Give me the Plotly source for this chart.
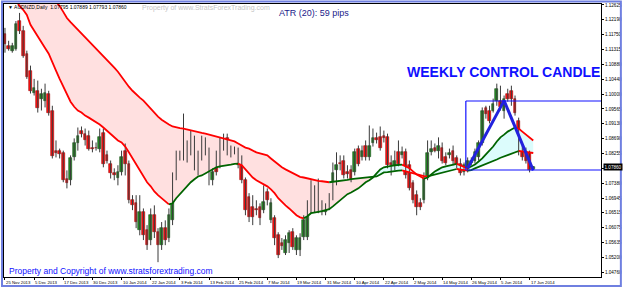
import plotly.graph_objects as go

# ---------------- data ----------------
date_labels = ["25 Nov 2013", "5 Dec 2013", "17 Dec 2013", "30 Dec 2013", "10 Jan 2014",
               "22 Jan 2014", "3 Feb 2014", "13 Feb 2014", "25 Feb 2014", "7 Mar 2014",
               "19 Mar 2014", "31 Mar 2014", "10 Apr 2014", "22 Apr 2014", "2 May 2014",
               "14 May 2014", "26 May 2014", "5 Jun 2014", "17 Jun 2014"]
date_label_bars = [0, 8, 16, 24, 32, 40, 48, 56, 64, 72, 80, 88, 96, 104, 112, 120, 128, 136, 144]

price_tick_vals = [1.12625, 1.12190, 1.11750, 1.11315, 1.10880, 1.10440, 1.10000, 1.09565,
                   1.09130, 1.08690, 1.08255, 1.07820, 1.07380, 1.06945, 1.06515, 1.06075,
                   1.05635, 1.05200, 1.04760]
price_tick_text = ["1.12625", "1.12190", "1.11750", "1.11315", "1.10880", "1.10440", "1.10000",
                   "1.09565", "1.09130", "1.08690", "1.08255", "1.07820", "1.07380", "1.06945",
                   "1.06515", "1.06075", "1.05635", "1.05200", "1.04760"]

opens = [1.1177, 1.1142, 1.1128, 1.1133, 1.1215, 1.1186, 1.1119, 1.1069, 1.1004, 1.1010,
         1.0987, 1.0981, 1.1002, 1.0952, 1.0834, 1.0832, 1.0826, 1.0752, 1.0747, 1.0814,
         1.0855, 1.0893, 1.0884, 1.0878, 1.0843, 1.0843, 1.0840, 1.0887, 1.0820, 1.0796,
         1.0767, 1.0755, 1.0770, 1.0834, 1.0796, 1.0688, 1.0679, 1.0600, 1.0653, 1.0600,
         1.0571, 1.0644, 1.0594, 1.0556, 1.0606, 1.0577, 1.0629, 1.0755, 1.0817, 1.0820,
         1.0811, 1.0849, 1.0858, 1.0805, 1.0811, 1.0829, 1.0834, 1.0747, 1.0826, 1.0791,
         1.0864, 1.0870, 1.0834, 1.0834, 1.0834, 1.0811, 1.0747, 1.0697, 1.0667, 1.0662,
         1.0667, 1.0659, 1.0711, 1.0629, 1.0635, 1.0585, 1.0562, 1.0533, 1.0562, 1.0594,
         1.0542, 1.0542, 1.0580, 1.0580, 1.0659, 1.0659, 1.0732, 1.0667, 1.0653, 1.0664,
         1.0694, 1.0776, 1.0799, 1.0805, 1.0770, 1.0776, 1.0770, 1.0840, 1.0814, 1.0849,
         1.0814, 1.0855, 1.0870, 1.0873, 1.0878, 1.0873, 1.0799, 1.0785, 1.0829, 1.0820,
         1.0829, 1.0791, 1.0738, 1.0703, 1.0679, 1.0688, 1.0755, 1.0829, 1.0843, 1.0834,
         1.0843, 1.0814, 1.0820, 1.0834, 1.0811, 1.0796, 1.0770, 1.0776, 1.0799, 1.0805,
         1.0814, 1.0855, 1.0958, 1.0952, 1.0952, 1.0981, 1.0981, 1.0952, 1.1002, 1.1010,
         1.0987, 1.0922, 1.0840, 1.0834, 1.0826, 1.07795]
highs = [1.1195, 1.1157, 1.1151, 1.1215, 1.1239, 1.1201, 1.1128, 1.1084, 1.1045, 1.1040,
         1.1016, 1.1031, 1.1010, 1.0966, 1.0864, 1.0840, 1.0834, 1.0776, 1.0820, 1.0870,
         1.0902, 1.0905, 1.0899, 1.0893, 1.0864, 1.0858, 1.0899, 1.0899, 1.0834, 1.0805,
         1.0782, 1.0791, 1.0834, 1.0855, 1.0805, 1.0703, 1.0703, 1.0703, 1.0664, 1.0615,
         1.0664, 1.0673, 1.0606, 1.0624, 1.0629, 1.0664, 1.0770, 1.0834, 1.0834, 1.0943,
         1.0864, 1.0893, 1.0878, 1.0834, 1.0878, 1.0873, 1.0843, 1.0782, 1.0834, 1.0873,
         1.0884, 1.0884, 1.0849, 1.0846, 1.0843, 1.0820, 1.0755, 1.0709, 1.0703, 1.0688,
         1.0679, 1.0732, 1.0723, 1.0694, 1.0644, 1.0594, 1.0577, 1.0585, 1.0600, 1.0606,
         1.0585, 1.0591, 1.0644, 1.0688, 1.0747, 1.0732, 1.0752, 1.0688, 1.0679, 1.0709,
         1.0799, 1.0829, 1.0820, 1.0820, 1.0791, 1.0791, 1.0840, 1.0849, 1.0849, 1.0864,
         1.0908, 1.0899, 1.0887, 1.0905, 1.0893, 1.0884, 1.0820, 1.0834, 1.0864, 1.0846,
         1.0840, 1.0805, 1.0747, 1.0717, 1.0694, 1.0770, 1.0864, 1.0864, 1.0855, 1.0873,
         1.0858, 1.0829, 1.0840, 1.0849, 1.0820, 1.0811, 1.0799, 1.0814, 1.0814, 1.0840,
         1.0864, 1.0961, 1.0966, 1.0966, 1.0987, 1.1031, 1.1025, 1.0996, 1.1016, 1.1025,
         1.0996, 1.0931, 1.0849, 1.0843, 1.0834, 1.07889]
lows = [1.1122, 1.1128, 1.1122, 1.1128, 1.1177, 1.1107, 1.1045, 1.1002, 1.0996, 1.0946,
        1.0952, 1.0961, 1.0937, 1.0811, 1.0814, 1.0811, 1.0741, 1.0723, 1.0732, 1.0805,
        1.0834, 1.0873, 1.0849, 1.0834, 1.0829, 1.0834, 1.0829, 1.0785, 1.0796, 1.0752,
        1.0747, 1.0732, 1.0761, 1.0761, 1.0679, 1.0659, 1.0606, 1.0585, 1.0571, 1.0542,
        1.0556, 1.0577, 1.0506, 1.0542, 1.0556, 1.0565, 1.0615, 1.0747, 1.0805, 1.0805,
        1.0799, 1.0820, 1.0776, 1.0761, 1.0805, 1.0820, 1.0732, 1.0732, 1.0761, 1.0782,
        1.0834, 1.0820, 1.0814, 1.0823, 1.0782, 1.0738, 1.0644, 1.0624, 1.0615, 1.0644,
        1.0615, 1.0650, 1.0673, 1.0621, 1.0556, 1.0518, 1.0542, 1.0527, 1.0533, 1.0542,
        1.0527, 1.0524, 1.0571, 1.0571, 1.0650, 1.0653, 1.0650, 1.0644, 1.0644, 1.0659,
        1.0688, 1.0732, 1.0776, 1.0752, 1.0752, 1.0741, 1.0761, 1.0788, 1.0805, 1.0805,
        1.0805, 1.0846, 1.0855, 1.0834, 1.0858, 1.0782, 1.0761, 1.0776, 1.0788, 1.0811,
        1.0752, 1.0717, 1.0679, 1.0644, 1.0659, 1.0679, 1.0747, 1.0820, 1.0829, 1.0811,
        1.0796, 1.0791, 1.0811, 1.0791, 1.0782, 1.0761, 1.0761, 1.0770, 1.0791, 1.0796,
        1.0805, 1.0849, 1.0928, 1.0914, 1.0946, 1.0966, 1.0952, 1.0928, 1.0978, 1.0966,
        1.0937, 1.0820, 1.0805, 1.0796, 1.0770, 1.07793]
closes = [1.1148, 1.1133, 1.1142, 1.1207, 1.1186, 1.1113, 1.1051, 1.1010, 1.1019, 1.0958,
          1.1002, 1.1004, 1.0946, 1.0817, 1.0826, 1.0823, 1.0747, 1.0738, 1.0811, 1.0855,
          1.0878, 1.0884, 1.0864, 1.0840, 1.0840, 1.0842, 1.0873, 1.0796, 1.0805, 1.0767,
          1.0761, 1.0770, 1.0814, 1.0796, 1.0688, 1.0673, 1.0624, 1.0653, 1.0585, 1.0556,
          1.0644, 1.0594, 1.0556, 1.0606, 1.0571, 1.0644, 1.0755, 1.0814, 1.0820, 1.0817,
          1.0834, 1.0834, 1.0785, 1.0820, 1.0855, 1.0858, 1.0776, 1.0770, 1.0770, 1.0855,
          1.0843, 1.0829, 1.0826, 1.0832, 1.0791, 1.0747, 1.0659, 1.0638, 1.0638, 1.0659,
          1.0635, 1.0682, 1.0688, 1.0679, 1.0577, 1.0527, 1.0553, 1.0571, 1.0591, 1.0550,
          1.0577, 1.0577, 1.0629, 1.0673, 1.0726, 1.0717, 1.0659, 1.0653, 1.0664, 1.0694,
          1.0767, 1.0791, 1.0796, 1.0761, 1.0764, 1.0752, 1.0829, 1.0796, 1.0834, 1.0814,
          1.0849, 1.0870, 1.0864, 1.0843, 1.0870, 1.0791, 1.0793, 1.0805, 1.0796, 1.0829,
          1.0761, 1.0723, 1.0688, 1.0667, 1.0667, 1.0755, 1.0826, 1.0840, 1.0834, 1.0849,
          1.0805, 1.0799, 1.0826, 1.0805, 1.0791, 1.0767, 1.0791, 1.0805, 1.0805, 1.0829,
          1.0855, 1.0952, 1.0943, 1.0922, 1.0972, 1.1016, 1.0961, 1.0987, 1.0987, 1.0987,
          1.0946, 1.0829, 1.0814, 1.0805, 1.0776, 1.07860]

ma_fast = [1.1333, 1.1315, 1.1297, 1.1280, 1.1259, 1.1248, 1.1233, 1.1204, 1.1186, 1.1169,
           1.1154, 1.1136, 1.1119, 1.1092, 1.1069, 1.1045, 1.1022, 1.1002, 1.0978, 1.0963,
           1.0952, 1.0946, 1.0937, 1.0931, 1.0925, 1.0917, 1.0911, 1.0902, 1.0893, 1.0884,
           1.0873, 1.0864, 1.0858, 1.0846, 1.0829, 1.0811, 1.0791, 1.0773, 1.0758, 1.0741,
           1.0729, 1.0714, 1.0703, 1.0694, 1.0685, 1.0676, 1.0679, 1.0694, 1.0706, 1.0720,
           1.0732, 1.0741, 1.0750, 1.0758, 1.0761, 1.0767, 1.0773, 1.0779, 1.0785, 1.0788,
           1.0789, 1.0791, 1.0793, 1.0795, 1.0796, 1.0791, 1.0779, 1.0767, 1.0755, 1.0747,
           1.0741, 1.0735, 1.0729, 1.0720, 1.0709, 1.0694, 1.0682, 1.0673, 1.0664, 1.0653,
           1.0644, 1.0638, 1.0635, 1.0641, 1.0650, 1.0653, 1.0654, 1.0656, 1.0659, 1.0662,
           1.0670, 1.0679, 1.0688, 1.0697, 1.0706, 1.0711, 1.0717, 1.0723, 1.0732, 1.0741,
           1.0747, 1.0755, 1.0767, 1.0779, 1.0785, 1.0788, 1.0789, 1.0791, 1.0792, 1.0793,
           1.0788, 1.0782, 1.0773, 1.0764, 1.0758, 1.0752, 1.0755, 1.0764, 1.0773, 1.0779,
           1.0785, 1.0788, 1.0791, 1.0793, 1.0795, 1.0791, 1.0785, 1.0782, 1.0788, 1.0793,
           1.0802, 1.0811, 1.0823, 1.0834, 1.0846, 1.0861, 1.0873, 1.0881, 1.0890, 1.0896,
           1.0902, 1.0899, 1.0890, 1.0881, 1.0873, 1.0864]
ma_slow = [1.1421, 1.1409, 1.1400, 1.1388, 1.1379, 1.1368, 1.1356, 1.1347, 1.1336, 1.1327,
           1.1315, 1.1306, 1.1295, 1.1286, 1.1274, 1.1259, 1.1242, 1.1224, 1.1212, 1.1201,
           1.1189, 1.1177, 1.1166, 1.1157, 1.1145, 1.1133, 1.1125, 1.1113, 1.1101, 1.1089,
           1.1078, 1.1066, 1.1051, 1.1037, 1.1022, 1.1010, 1.0999, 1.0990, 1.0981, 1.0969,
           1.0958, 1.0946, 1.0934, 1.0925, 1.0917, 1.0911, 1.0905, 1.0902, 1.0900, 1.0899,
           1.0896, 1.0893, 1.0890, 1.0887, 1.0886, 1.0884, 1.0881, 1.0878, 1.0875, 1.0873,
           1.0870, 1.0867, 1.0864, 1.0861, 1.0855, 1.0849, 1.0843, 1.0840, 1.0834, 1.0829,
           1.0826, 1.0823, 1.0820, 1.0811, 1.0802, 1.0793, 1.0785, 1.0779, 1.0773, 1.0767,
           1.0761, 1.0757, 1.0755, 1.0752, 1.0750, 1.0747, 1.0745, 1.0744, 1.0742, 1.0741,
           1.0742, 1.0744, 1.0745, 1.0747, 1.0748, 1.0750, 1.0751, 1.0752, 1.0753, 1.0754,
           1.0755, 1.0756, 1.0758, 1.0764, 1.0770, 1.0771, 1.0773, 1.0774, 1.0775, 1.0776,
           1.0773, 1.0770, 1.0767, 1.0764, 1.0761, 1.0759, 1.0758, 1.0761, 1.0764, 1.0767,
           1.0770, 1.0773, 1.0776, 1.0779, 1.0780, 1.0779, 1.0776, 1.0775, 1.0777, 1.0782,
           1.0786, 1.0791, 1.0795, 1.0799, 1.0804, 1.0808, 1.0813, 1.0817, 1.0821, 1.0826,
           1.0830, 1.0833, 1.0832, 1.0830, 1.0829, 1.0827]

# weekly control candle box and swing line
box_start_bar = 126.5
box_high = 1.0980
box_low = 1.0777
zz_bars = [127, 137, 145]
zz_prices = [1.0782, 1.0981, 1.0776]

info_text = "\u25BC AUDNZD,Daily  1.07795 1.07889 1.07793 1.07860"
last_price_text = "1.07860"
last_price = 1.07860

# ---------------- layout constants ----------------
W, H = 625, 287
ML, MR, MT, MB = 3, 21, 3, 10
PW, PH = W - ML - MR, H - MT - MB
X_RANGE = [-0.27, 163.6]
Y_RANGE = [1.04624, 1.12652]
FONT = "Liberation Sans, Arial, sans-serif"

RED = "#ff0000"
GREEN = "#006400"
PINK = "#ffe0e0"
CYAN = "#dcfcfc"
BLUE = "#1010ff"


def px(xp):
    return (xp - ML) / PW


def py(yp):
    return (H - MB - yp) / PH


n = len(opens)
bars = list(range(n))
fig = go.Figure()

# ---- fill between the two averages (pink when fast below slow, cyan when above) ----
diff = [f - s for f, s in zip(ma_fast, ma_slow)]
runs = []
cur = [(0, ma_fast[0], ma_slow[0])]
cur_sign = diff[0] >= 0
for i in range(n - 1):
    s_next = diff[i + 1] >= 0
    if s_next == cur_sign:
        cur.append((i + 1, ma_fast[i + 1], ma_slow[i + 1]))
    else:
        t = diff[i] / (diff[i] - diff[i + 1])
        xc = i + t
        yc = ma_fast[i] + t * (ma_fast[i + 1] - ma_fast[i])
        cur.append((xc, yc, yc))
        runs.append((cur_sign, cur))
        cur = [(xc, yc, yc), (i + 1, ma_fast[i + 1], ma_slow[i + 1])]
        cur_sign = s_next
runs.append((cur_sign, cur))
for sign, pts in runs:
    xs = [p[0] for p in pts] + [p[0] for p in reversed(pts)]
    ys = [p[1] for p in pts] + [p[2] for p in reversed(pts)]
    fig.add_trace(go.Scatter(x=xs, y=ys, fill="toself", mode="lines",
                             line=dict(width=0), fillcolor=CYAN if sign else PINK,
                             hoverinfo="skip"))

# ---- wicks ----
wx, wy = [], []
for i in bars:
    wx += [i, i, None]
    wy += [lows[i], highs[i], None]
fig.add_trace(go.Scatter(x=wx, y=wy, mode="lines", line=dict(color="#3a3a3a", width=1),
                         hoverinfo="skip"))

# ---- bodies ----
up = [i for i in bars if closes[i] >= opens[i]]
dn = [i for i in bars if closes[i] < opens[i]]
fig.add_trace(go.Bar(x=up, base=[opens[i] for i in up],
                     y=[max(closes[i] - opens[i], 0.00004) for i in up], width=0.72,
                     marker=dict(color="#238b23", line=dict(color="#174d17", width=0.6)),
                     hoverinfo="skip"))
fig.add_trace(go.Bar(x=dn, base=[closes[i] for i in dn],
                     y=[max(opens[i] - closes[i], 0.00004) for i in dn], width=0.72,
                     marker=dict(color="#ff1010", line=dict(color="#a00000", width=0.6)),
                     hoverinfo="skip"))

# ---- averages, coloured by slope ----
def slope_segments(vals):
    segs = []
    col = RED if vals[1] < vals[0] else GREEN
    start = 0
    for i in range(1, len(vals)):
        if vals[i] > vals[i - 1]:
            c = GREEN
        elif vals[i] < vals[i - 1]:
            c = RED
        else:
            c = col
        if c != col and i - 1 > start:
            segs.append((col, start, i - 1))
            start = i - 1
        col = c
    segs.append((col, start, len(vals) - 1))
    return segs


for vals in (ma_slow, ma_fast):
    for col, a, b in slope_segments(vals):
        fig.add_trace(go.Scatter(x=bars[a:b + 1], y=vals[a:b + 1], mode="lines",
                                 line=dict(color=col, width=1.8), hoverinfo="skip"))

# ---- swing line ----
fig.add_trace(go.Scatter(x=zz_bars, y=zz_prices, mode="lines",
                         line=dict(color="#2222dd", width=3), hoverinfo="skip"))

shapes = [
    dict(type="line", xref="x", yref="y", x0=box_start_bar, x1=X_RANGE[1], y0=box_high, y1=box_high,
         line=dict(color=BLUE, width=1.2)),
    dict(type="line", xref="x", yref="y", x0=box_start_bar, x1=X_RANGE[1], y0=box_low, y1=box_low,
         line=dict(color=BLUE, width=1.2)),
    dict(type="line", xref="x", yref="y", x0=box_start_bar, x1=box_start_bar, y0=box_low, y1=box_high,
         line=dict(color=BLUE, width=1.2)),
    # window frame
    dict(type="rect", xref="paper", yref="paper", x0=px(1), x1=px(W - 1), y0=py(H - 1), y1=py(0.5),
         line=dict(color="#6f7fe0", width=2)),
]

annotations = [
    dict(x=px(5), y=py(6), xref="paper", yref="paper", text=info_text, showarrow=False,
         xanchor="left", yanchor="middle", font=dict(family=FONT, size=5, color="#000000")),
    dict(x=px(140), y=py(7), xref="paper", yref="paper", text="Property of www.StratsForexTrading.com",
         showarrow=False, xanchor="left", yanchor="middle",
         font=dict(family=FONT, size=7, color="#c4c4c4")),
    dict(x=px(278), y=py(12), xref="paper", yref="paper", text="ATR (20): 59 pips", showarrow=False,
         xanchor="left", yanchor="middle", font=dict(family=FONT, size=9, color="#1a1a8a")),
    dict(x=px(407), y=py(71), xref="paper", yref="paper", text="<b>WEEKLY CONTROL CANDLE</b>",
         showarrow=False, xanchor="left", yanchor="middle", font=dict(family=FONT, size=14, color=BLUE)),
    dict(x=px(6), y=py(271), xref="paper", yref="paper",
         text="Property and Copyright of www.stratsforextrading.com", showarrow=False,
         xanchor="left", yanchor="middle", font=dict(family=FONT, size=8.5, color=BLUE)),
    dict(x=1.0, y=last_price, xref="paper", yref="y", text=last_price_text, showarrow=False,
         xanchor="left", yanchor="middle", xshift=2, bgcolor="#000000", borderpad=0.5,
         font=dict(family=FONT, size=4.6, color="#ffffff")),
]
for lab, b in zip(date_labels, date_label_bars):
    annotations.append(dict(x=b, y=0, xref="x", yref="paper", text=lab, showarrow=False,
                            xanchor="left", yanchor="top", yshift=-1, xshift=-1,
                            font=dict(family=FONT, size=4.3, color="#000000")))

fig.update_layout(
    width=W, height=H, margin=dict(l=ML, r=MR, t=MT, b=MB),
    paper_bgcolor="#ffffff", plot_bgcolor="#ffffff", showlegend=False,
    barmode="overlay", bargap=0,
    shapes=shapes, annotations=annotations,
    xaxis=dict(range=X_RANGE, showgrid=False, zeroline=False, showline=True, mirror=True,
               linecolor="#000000", linewidth=1, ticks="outside", ticklen=2, tickcolor="#000000",
               tickvals=date_label_bars, showticklabels=False, fixedrange=True),
    yaxis=dict(range=Y_RANGE, side="right", showgrid=False, zeroline=False, showline=True,
               mirror=True, linecolor="#000000", linewidth=1, ticks="outside", ticklen=2,
               tickcolor="#000000", tickvals=price_tick_vals, ticktext=price_tick_text,
               tickfont=dict(family=FONT, size=4.6, color="#000000"), fixedrange=True),
)

fig.write_html("out.html")
